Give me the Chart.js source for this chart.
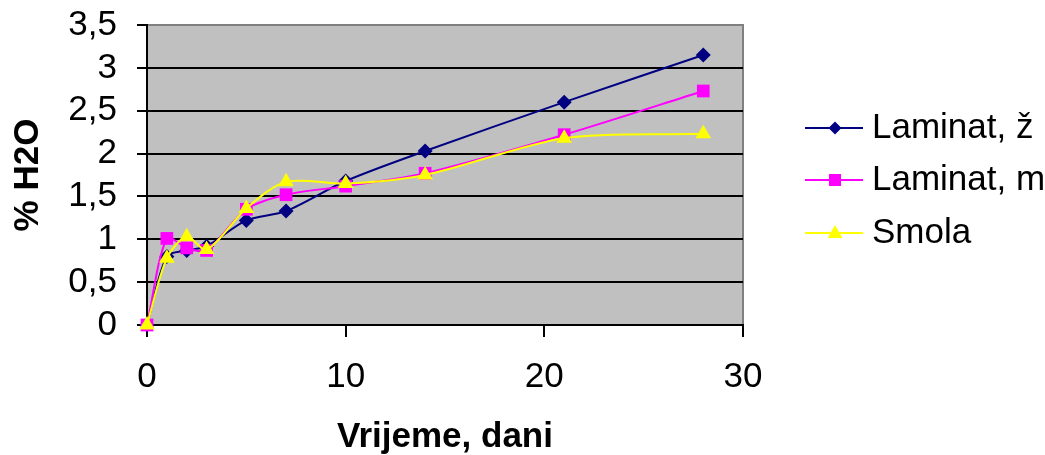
<!DOCTYPE html>
<html>
<head>
<meta charset="utf-8">
<script src="https://cdn.jsdelivr.net/npm/chart.js@4"></script>
<style>
  html, body { margin: 0; padding: 0; background: #fff; }
  #wrap { width: 1045px; height: 455px; position: relative; }
</style>
</head>
<body>
<div id="wrap"><canvas id="chart"></canvas></div>
<script>
// days of measurement
const days = [0, 1, 2, 3, 5, 7, 10, 14, 21, 28];
// % H2O per series
const laminatZ = [0, 0.8, 0.87, 0.92, 1.22, 1.33, 1.68, 2.03, 2.6, 3.15];
const laminatM = [0, 1.01, 0.9, 0.87, 1.35, 1.52, 1.62, 1.77, 2.22, 2.73];
const smola = [0, 0.78, 1.03, 0.88, 1.36, 1.67, 1.65, 1.75, 2.18, 2.23];
const seriesNames = ['Laminat, ž', 'Laminat, m', 'Smola'];
const yTicks = [0, 0.5, 1, 1.5, 2, 2.5, 3, 3.5];
const xTicks = [0, 10, 20, 30];

const FONT = 'Arial, "Liberation Sans", sans-serif';

const toPoints = (vals) => days.map((d, i) => ({ x: d, y: vals[i] }));

const styles = [
    { color: '#000080', point: 'rectRot', radius: 7.5 },
    { color: '#FF00FF', point: 'rect', radius: 9 },
    { color: '#FFFF00', point: 'triangle', radius: 9 }
];

const makeDataset = (label, vals, s, order) => ({
    label,
    data: toPoints(vals),
    borderColor: s.color,
    backgroundColor: s.color,
    borderWidth: 2,
    pointStyle: s.point,
    pointRadius: s.radius,
    pointHoverRadius: s.radius,
    pointBorderWidth: 0,
    tension: 0.3,
    clip: false,
    order
});

// gray plot background + border
const plotBg = {
    id: 'plotBg',
    beforeDraw(chart) {
        const { ctx, chartArea: a } = chart;
        ctx.save();
        ctx.fillStyle = '#C0C0C0';
        ctx.fillRect(a.left, a.top, a.right - a.left, a.bottom - a.top);
        ctx.strokeStyle = '#808080';
        ctx.lineWidth = 2;
        ctx.strokeRect(a.left, a.top, a.right - a.left, a.bottom - a.top);
        ctx.restore();
    }
};

// legend with line + marker, drawn on the right
const sideLegend = {
    id: 'sideLegend',
    afterDraw(chart) {
        const { ctx } = chart;
        const rows = [128, 180, 233];
        ctx.save();
        seriesNames.forEach((name, i) => {
            const s = styles[i];
            const y = rows[i];
            ctx.strokeStyle = s.color;
            ctx.lineWidth = 2;
            ctx.beginPath();
            ctx.moveTo(805, y);
            ctx.lineTo(863, y);
            ctx.stroke();
            ctx.fillStyle = s.color;
            ctx.beginPath();
            const cx = 835;
            if (s.point === 'rectRot') {
                const r = 6.5;
                ctx.moveTo(cx - r, y); ctx.lineTo(cx, y - r);
                ctx.lineTo(cx + r, y); ctx.lineTo(cx, y + r);
            } else if (s.point === 'rect') {
                ctx.rect(cx - 6, y - 6, 12, 12);
            } else {
                ctx.moveTo(cx, y - 8); ctx.lineTo(cx + 7.5, y + 5); ctx.lineTo(cx - 7.5, y + 5);
            }
            ctx.closePath();
            ctx.fill();
            ctx.fillStyle = '#000';
            ctx.font = '35px ' + FONT;
            ctx.textBaseline = 'middle';
            ctx.textAlign = 'left';
            ctx.fillText(name, 872, y);
        });
        ctx.restore();
    }
};

new Chart(document.getElementById('chart'), {
    type: 'line',
    data: {
        datasets: [
            makeDataset(seriesNames[0], laminatZ, styles[0], 2),
            makeDataset(seriesNames[1], laminatM, styles[1], 1),
            makeDataset(seriesNames[2], smola, styles[2], 0)
        ]
    },
    options: {
        responsive: true,
        maintainAspectRatio: false,
        animation: false,
        events: [],
        layout: { padding: { top: 25, right: 302, left: 0, bottom: 0 } },
        plugins: {
            legend: { display: false },
            tooltip: { enabled: false }
        },
        scales: {
            x: {
                type: 'linear',
                min: 0,
                max: 30,
                afterFit: (s) => { s.height = 130; s.paddingLeft = 0; s.paddingRight = 0; },
                afterBuildTicks: (s) => { s.ticks = xTicks.map(v => ({ value: v })); },
                border: { color: '#000', width: 2 },
                grid: { drawOnChartArea: false, drawTicks: true, tickLength: 12, tickColor: '#000', lineWidth: 2 },
                ticks: { color: '#000', padding: 19, autoSkip: false, maxRotation: 0, font: { family: FONT, size: 35 } },
                title: {
                    display: true,
                    text: 'Vrijeme, dani',
                    color: '#000',
                    padding: { top: 0, bottom: 0 },
                    font: { family: FONT, size: 35, weight: 'bold', lineHeight: 1 }
                }
            },
            y: {
                min: 0,
                max: 3.5,
                afterFit: (s) => { s.width = 147; s.paddingTop = 0; s.paddingBottom = 0; },
                afterBuildTicks: (s) => { s.ticks = yTicks.map(v => ({ value: v })); },
                border: { color: '#000', width: 2 },
                grid: {
                    color: (c) => c.tick && c.tick.value === 3.5 ? '#808080' : '#000',
                    tickColor: '#000',
                    lineWidth: 2,
                    tickLength: 10
                },
                ticks: {
                    color: '#000',
                    padding: 20,
                    autoSkip: false,
                    font: { family: FONT, size: 35 },
                    callback: (v) => String(v).replace('.', ',')
                },
                title: {
                    display: true,
                    text: '% H2O',
                    color: '#000',
                    padding: { top: 11, bottom: 0 },
                    font: { family: FONT, size: 35, weight: 'bold', lineHeight: 1 }
                }
            }
        }
    },
    plugins: [plotBg, sideLegend]
});
</script>
</body>
</html>
